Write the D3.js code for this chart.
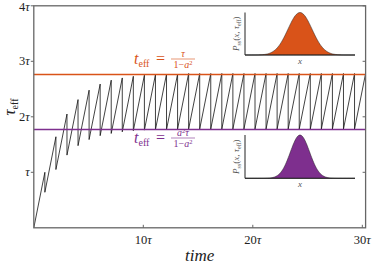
<!DOCTYPE html>
<html>
<head>
<meta charset="utf-8">
<script src="https://cdn.jsdelivr.net/npm/d3@7"></script>
<style>
  body { margin: 0; background: #fff; }
</style>
</head>
<body>
<div id="chart"></div>
<script>
// effective time constant (units of tau)
var peakTimes = [1.01, 2.02, 3.03, 4.04, 5.05, 6.06, 7.07, 8.08, 9.09, 10.10,
                 11.11, 12.12, 13.13, 14.14, 15.15, 16.16, 17.17, 18.18, 19.19, 20.20,
                 21.21, 22.22, 23.23, 24.24, 25.25, 26.26, 27.27, 28.28, 29.29, 30.30];
var peakValues = [1.00, 1.64, 2.05, 2.31, 2.48, 2.59, 2.66, 2.70, 2.73, 2.75,
                  2.76, 2.77, 2.77, 2.78, 2.78, 2.78, 2.78, 2.78, 2.78, 2.78,
                  2.78, 2.78, 2.78, 2.78, 2.78, 2.78, 2.78, 2.78, 2.78, 2.78];
var troughValues = [0.64, 1.05, 1.31, 1.48, 1.59, 1.66, 1.70, 1.73, 1.75, 1.76,
                    1.77, 1.77, 1.78, 1.78, 1.78, 1.78, 1.78, 1.78, 1.78, 1.78,
                    1.78, 1.78, 1.78, 1.78, 1.78, 1.78, 1.78, 1.78, 1.78, 1.78];
var upperLevel = 2.78;   // tau / (1 - a^2)
var lowerLevel = 1.78;   // a^2 tau / (1 - a^2)
var yTicks = [1, 2, 3, 4];
var yTickLabels = ["\u03c4", "2\u03c4", "3\u03c4", "4\u03c4"];
var xTicks = [10, 20, 30];
var xTickLabels = ["10\u03c4", "20\u03c4", "30\u03c4"];
var insetVariance = [2.78, 1.78];

var orange = "#D95319", purple = "#7E2F8E";

var W = 374, H = 264;
var svg = d3.select("#chart").append("svg")
    .attr("width", W)
    .attr("height", H)
    .attr("font-family", "'Liberation Serif', 'DejaVu Serif', serif")
    .style("background", "#fff");

var x = d3.scaleLinear().domain([0, 30.3]).range([33.8, 365.6]);
var y = d3.scaleLinear().domain([0, 4]).range([227.8, 5.8]);

// sawtooth points
var pts = [[0, 0]];
peakTimes.forEach(function(t, i) {
    pts.push([t, peakValues[i]]);
    if (i < peakTimes.length - 1) pts.push([t, troughValues[i]]);
});

svg.append("defs").append("clipPath").attr("id", "clip")
    .append("rect")
    .attr("x", x(0)).attr("y", y(4))
    .attr("width", x(30.3) - x(0)).attr("height", y(0) - y(4));

var line = d3.line()
    .x(function(d) { return x(d[0]); })
    .y(function(d) { return y(d[1]); });

svg.append("path")
    .datum(pts)
    .attr("clip-path", "url(#clip)")
    .attr("d", line)
    .attr("fill", "none")
    .attr("stroke", "#111")
    .attr("stroke-width", 0.8)
    .attr("stroke-linejoin", "bevel");

// level lines, on top of the sawtooth
[[upperLevel, orange], [lowerLevel, purple]].forEach(function(l) {
    var yy = Math.round(y(l[0])) + 0.5;
    svg.append("line")
        .attr("x1", x(0)).attr("x2", x(30.3))
        .attr("y1", yy).attr("y2", yy)
        .attr("stroke", l[1]).attr("stroke-width", 1.3);
});

// frame
var frameColor = "#666";
svg.append("rect")
    .attr("x", x(0)).attr("y", y(4))
    .attr("width", x(30.3) - x(0)).attr("height", y(0) - y(4))
    .attr("fill", "none").attr("stroke", frameColor).attr("stroke-width", 1.3);

// y ticks (outward on left, inward on right)
var yAxis = svg.append("g");
yTicks.forEach(function(v, i) {
    yAxis.append("line")
        .attr("x1", x(0) - 3).attr("x2", x(0))
        .attr("y1", y(v)).attr("y2", y(v))
        .attr("stroke", frameColor).attr("stroke-width", 1);
    yAxis.append("line")
        .attr("x1", x(30.3) - 3).attr("x2", x(30.3))
        .attr("y1", y(v)).attr("y2", y(v))
        .attr("stroke", frameColor).attr("stroke-width", 1);
    var t = yAxis.append("text")
        .attr("x", x(0) - 4).attr("y", Math.max(y(v) + 4, 10.5))
        .attr("text-anchor", "end")
        .attr("font-size", 12.5).attr("fill", "#222");
    var lab = yTickLabels[i];
    if (lab.length > 1) t.append("tspan").text(lab.slice(0, -1));
    t.append("tspan").attr("font-style", "italic").text("\u03c4");
});

// x ticks (inward)
var xAxis = svg.append("g");
xTicks.forEach(function(v, i) {
    xAxis.append("line")
        .attr("x1", x(v)).attr("x2", x(v))
        .attr("y1", y(0)).attr("y2", y(0) - 3)
        .attr("stroke", frameColor).attr("stroke-width", 1);
    var t = xAxis.append("text")
        .attr("x", x(v)).attr("y", 244)
        .attr("text-anchor", "middle")
        .attr("font-size", 12.5).attr("fill", "#222");
    t.append("tspan").text(xTickLabels[i].slice(0, -1));
    t.append("tspan").attr("font-style", "italic").text("\u03c4");
});

// axis labels
svg.append("text")
    .attr("x", (x(0) + x(30.3)) / 2).attr("y", 261)
    .attr("text-anchor", "middle")
    .attr("font-size", 17).attr("font-style", "italic").attr("fill", "#222")
    .text("time");

var yl = svg.append("text")
    .attr("transform", "translate(15,107) rotate(-90)")
    .attr("text-anchor", "middle")
    .attr("fill", "#222");
yl.append("tspan").attr("font-size", 17).attr("font-style", "italic").text("\u03c4");
yl.append("tspan").attr("font-size", 10).attr("dy", 3).text("eff");

// annotations
function annot(color, ty, num) {
    var g = svg.append("g").attr("fill", color);
    var t = g.append("text").attr("x", 134).attr("y", ty).attr("font-size", 16);
    t.append("tspan").attr("font-style", "italic").text("t");
    t.append("tspan").attr("font-size", 10).attr("dy", 3).text("eff");
    g.append("text").attr("x", 156).attr("y", ty).attr("font-size", 16).text("=");
    var cx = 183;
    var n = g.append("text").attr("x", cx).attr("y", ty - 7)
        .attr("text-anchor", "middle").attr("font-size", 10);
    num(n);
    g.append("line")
        .attr("x1", 171).attr("x2", 195)
        .attr("y1", ty - 5).attr("y2", ty - 5)
        .attr("stroke", color).attr("stroke-width", 0.6);
    var d = g.append("text").attr("x", cx).attr("y", ty + 3.5)
        .attr("text-anchor", "middle").attr("font-size", 10);
    d.append("tspan").text("1\u2212");
    d.append("tspan").attr("font-style", "italic").text("a");
    d.append("tspan").attr("font-size", 6.5).attr("dy", -3).text("2");
}
annot(orange, 64, function(n) {
    n.append("tspan").attr("font-style", "italic").text("\u03c4");
});
annot(purple, 143, function(n) {
    n.append("tspan").attr("font-style", "italic").text("a");
    n.append("tspan").attr("font-size", 6.5).attr("dy", -3).text("2");
    n.append("tspan").attr("font-style", "italic").attr("dy", 3).text("\u03c4");
});

// insets with stationary distributions
function inset(top, bottom, variance, color) {
    var ix = d3.scaleLinear().domain([-7.6, 7.6]).range([245, 355]);
    var xs = d3.range(-7.6, 7.61, 0.1);
    var dens = xs.map(function(v) {
        return [v, Math.exp(-v * v / (2 * variance)) / Math.sqrt(2 * Math.PI * variance)];
    });
    var iy = d3.scaleLinear()
        .domain([0, d3.max(dens, function(d) { return d[1]; })])
        .range([bottom, top]);
    var g = svg.append("g");
    g.append("path")
        .datum(dens)
        .attr("d", d3.area()
            .x(function(d) { return ix(d[0]); })
            .y0(bottom)
            .y1(function(d) { return iy(d[1]); }))
        .attr("fill", color)
        .attr("stroke", "#222").attr("stroke-width", 0.5);
    g.append("path")
        .attr("d", "M245," + top + "V" + bottom + "H355")
        .attr("fill", "none").attr("stroke", "#222").attr("stroke-width", 1);
    g.append("text")
        .attr("x", 300).attr("y", bottom + 9)
        .attr("text-anchor", "middle")
        .attr("font-size", 9).attr("font-style", "italic").attr("fill", "#555")
        .text("x");
    var lab = g.append("text")
        .attr("transform", "translate(239," + ((top + bottom) / 2) + ") rotate(-90)")
        .attr("text-anchor", "middle")
        .attr("font-size", 9).attr("fill", "#555");
    lab.append("tspan").attr("font-style", "italic").text("P");
    lab.append("tspan").attr("font-size", 6).attr("dy", 2).text("ss");
    lab.append("tspan").attr("dy", -2).text("(");
    lab.append("tspan").attr("font-style", "italic").text("x");
    lab.append("tspan").text(", ");
    lab.append("tspan").attr("font-style", "italic").text("\u03c4");
    lab.append("tspan").attr("font-size", 6).attr("dy", 2).text("eff");
    lab.append("tspan").attr("dy", -2).text(")");
}
inset(12.5, 55, insetVariance[0], orange);
inset(135, 178.3, insetVariance[1], purple);
</script>
</body>
</html>
